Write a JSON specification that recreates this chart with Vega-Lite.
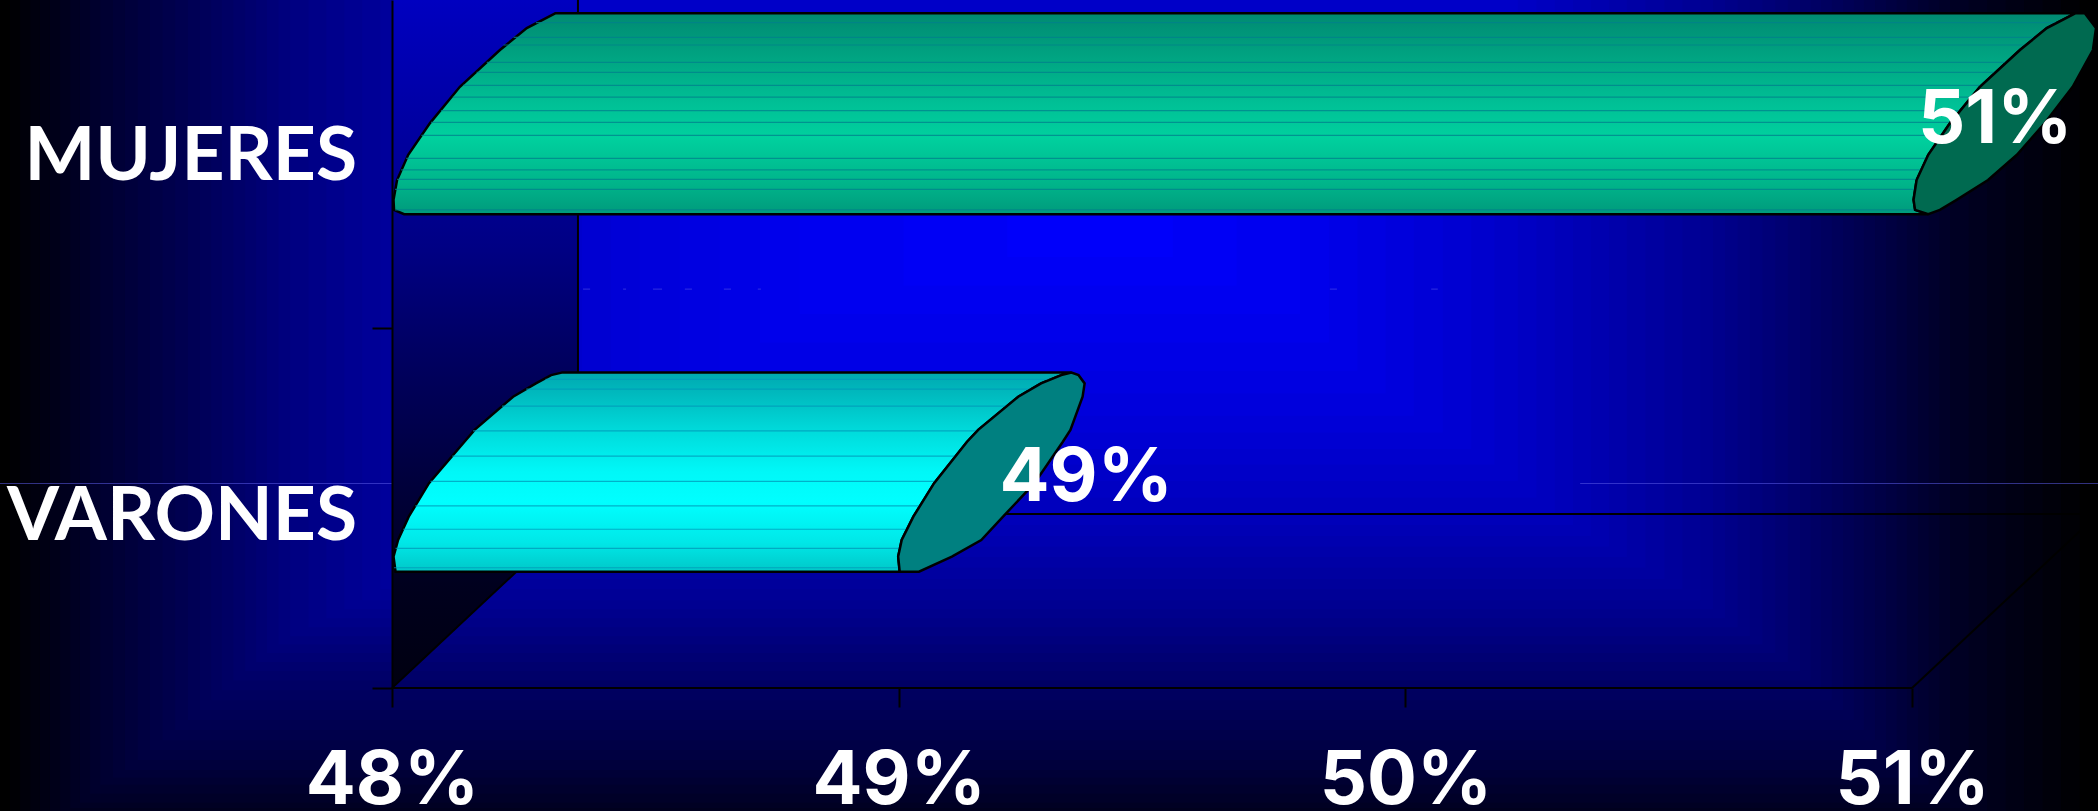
{"$schema":"https://vega.github.io/schema/vega-lite/v6.json","width":1706,"height":688,"autosize":{"type":"none"},"padding":{"left":392,"top":0,"right":0,"bottom":123},"background":"#000000","config":{"view":{"stroke":null}},
"datasets":{
"fondo":[
{"nivel":0,"x":47.226,"x2":51.367,"y":-0.347,"y2":1.911},
{"nivel":5,"x":47.246,"x2":51.331,"y":-0.347,"y2":1.911},
{"nivel":10,"x":47.266,"x2":51.294,"y":-0.347,"y2":1.911},
{"nivel":15,"x":47.286,"x2":51.258,"y":-0.347,"y2":1.911},
{"nivel":20,"x":47.305,"x2":51.221,"y":-0.347,"y2":1.911},
{"nivel":25,"x":47.325,"x2":51.185,"y":-0.347,"y2":1.911},
{"nivel":30,"x":47.345,"x2":51.148,"y":-0.347,"y2":1.911},
{"nivel":35,"x":47.365,"x2":51.112,"y":-0.333,"y2":1.911},
{"nivel":40,"x":47.384,"x2":51.075,"y":-0.319,"y2":1.911},
{"nivel":45,"x":47.404,"x2":51.054,"y":-0.294,"y2":1.911},
{"nivel":50,"x":47.424,"x2":51.033,"y":-0.269,"y2":1.911},
{"nivel":55,"x":47.449,"x2":51.012,"y":-0.249,"y2":1.911},
{"nivel":60,"x":47.473,"x2":50.990,"y":-0.228,"y2":1.911},
{"nivel":65,"x":47.498,"x2":50.970,"y":-0.200,"y2":1.911},
{"nivel":70,"x":47.522,"x2":50.949,"y":-0.172,"y2":1.911},
{"nivel":75,"x":47.547,"x2":50.927,"y":-0.145,"y2":1.911},
{"nivel":80,"x":47.572,"x2":50.905,"y":-0.117,"y2":1.911},
{"nivel":85,"x":47.597,"x2":50.885,"y":-0.089,"y2":1.911},
{"nivel":90,"x":47.621,"x2":50.864,"y":-0.061,"y2":1.911},
{"nivel":95,"x":47.643,"x2":50.842,"y":-0.034,"y2":1.911},
{"nivel":100,"x":47.664,"x2":50.820,"y":-0.006,"y2":1.911},
{"nivel":105,"x":47.687,"x2":50.800,"y":0.021,"y2":1.911},
{"nivel":110,"x":47.710,"x2":50.779,"y":0.047,"y2":1.911},
{"nivel":115,"x":47.732,"x2":50.755,"y":0.072,"y2":1.911},
{"nivel":120,"x":47.753,"x2":50.730,"y":0.097,"y2":1.911},
{"nivel":125,"x":47.776,"x2":50.705,"y":0.121,"y2":1.911},
{"nivel":130,"x":47.799,"x2":50.680,"y":0.144,"y2":1.911},
{"nivel":135,"x":47.835,"x2":50.656,"y":0.169,"y2":1.911},
{"nivel":140,"x":47.870,"x2":50.631,"y":0.194,"y2":1.911},
{"nivel":145,"x":47.906,"x2":50.607,"y":0.219,"y2":1.911},
{"nivel":150,"x":47.941,"x2":50.582,"y":0.244,"y2":1.911},
{"nivel":155,"x":47.977,"x2":50.547,"y":0.274,"y2":1.911},
{"nivel":160,"x":48.012,"x2":50.511,"y":0.303,"y2":1.911},
{"nivel":165,"x":48.049,"x2":50.474,"y":0.334,"y2":1.911},
{"nivel":170,"x":48.085,"x2":50.437,"y":0.364,"y2":1.911},
{"nivel":175,"x":48.122,"x2":50.402,"y":0.393,"y2":1.911},
{"nivel":180,"x":48.158,"x2":50.366,"y":0.422,"y2":1.911},
{"nivel":185,"x":48.194,"x2":50.331,"y":0.453,"y2":1.911},
{"nivel":190,"x":48.229,"x2":50.295,"y":0.483,"y2":1.911},
{"nivel":195,"x":48.266,"x2":50.259,"y":0.529,"y2":1.911},
{"nivel":200,"x":48.302,"x2":50.222,"y":0.575,"y2":1.911},
{"nivel":205,"x":48.339,"x2":50.176,"y":0.620,"y2":1.853},
{"nivel":210,"x":48.375,"x2":50.130,"y":0.664,"y2":1.794},
{"nivel":215,"x":48.432,"x2":50.074,"y":0.710,"y2":1.738},
{"nivel":220,"x":48.489,"x2":50.017,"y":0.756,"y2":1.681},
{"nivel":225,"x":48.568,"x2":49.961,"y":0.819,"y2":1.623},
{"nivel":230,"x":48.647,"x2":49.905,"y":0.881,"y2":1.564},
{"nivel":235,"x":48.726,"x2":49.849,"y":0.960,"y2":1.507},
{"nivel":240,"x":48.805,"x2":49.792,"y":1.039,"y2":1.45},
{"nivel":245,"x":49.010,"x2":49.667,"y":1.118,"y2":1.392},
{"nivel":250,"x":49.214,"x2":49.541,"y":1.197,"y2":1.333}],
"pared":[{"x":48,"y":0,"y2":1.911},{"x":48.367,"y":0.483,"y2":1.911}],
"lineas":[{"x":48.367,"x2":48.367,"y":0.483,"y2":1.911},{"x":48.367,"x2":51.367,"y":0.483,"y2":0.483},{"x":48,"x2":48.367,"y":0,"y2":0.483},{"x":51,"x2":51.367,"y":0,"y2":0.483},{"x":48,"x2":51,"y":0,"y2":0}],
"tenues":[{"x":47.226,"x2":48.075,"y":0.568},{"x":50.345,"x2":51.367,"y":0.568},{"x":48.377,"x2":48.391,"y":1.108},{"x":48.456,"x2":48.462,"y":1.108},{"x":48.515,"x2":48.533,"y":1.108},{"x":48.578,"x2":48.592,"y":1.108},{"x":48.655,"x2":48.669,"y":1.108},{"x":48.722,"x2":48.728,"y":1.108},{"x":49.851,"x2":49.865,"y":1.108},{"x":50.051,"x2":50.064,"y":1.108}],
"barras":[
{"barra":"VARONES","y":0.876,"izq":48.335,"der":49.341,"borde":49.341},
{"barra":"VARONES","y":0.869,"izq":48.314,"der":49.321,"borde":49.355},
{"barra":"VARONES","y":0.846,"izq":48.284,"der":49.281,"borde":49.367},
{"barra":"VARONES","y":0.809,"izq":48.239,"der":49.236,"borde":49.363},
{"barra":"VARONES","y":0.717,"izq":48.163,"der":49.157,"borde":49.339},
{"barra":"VARONES","y":0.684,"izq":48.143,"der":49.135,"borde":49.324},
{"barra":"VARONES","y":0.569,"izq":48.073,"der":49.070,"borde":49.268},
{"barra":"VARONES","y":0.476,"izq":48.033,"der":49.029,"borde":49.206},
{"barra":"VARONES","y":0.411,"izq":48.012,"der":49.006,"borde":49.163},
{"barra":"VARONES","y":0.365,"izq":48.003,"der":48.999,"borde":49.105},
{"barra":"VARONES","y":0.323,"izq":48.007,"der":49.002,"borde":49.040},
{"barra":"MUJERES","y":1.874,"izq":48.322,"der":51.322,"borde":51.341},
{"barra":"MUJERES","y":1.833,"izq":48.266,"der":51.266,"borde":51.363},
{"barra":"MUJERES","y":1.772,"izq":48.213,"der":51.213,"borde":51.357},
{"barra":"MUJERES","y":1.670,"izq":48.134,"der":51.134,"borde":51.317},
{"barra":"MUJERES","y":1.569,"izq":48.075,"der":51.075,"borde":51.262},
{"barra":"MUJERES","y":1.481,"izq":48.032,"der":51.032,"borde":51.207},
{"barra":"MUJERES","y":1.411,"izq":48.010,"der":51.009,"borde":51.150},
{"barra":"MUJERES","y":1.356,"izq":48.003,"der":51.003,"borde":51.088},
{"barra":"MUJERES","y":1.328,"izq":48.004,"der":51.006,"borde":51.055},
{"barra":"MUJERES","y":1.316,"izq":48.024,"der":51.032,"borde":51.032}],
"separadores":[
{"y":0.857,"izq":48.303,"der":49.303,"tipo":"a"},{"y":0.830,"izq":48.265,"der":49.265,"tipo":"a"},{"y":0.783,"izq":48.217,"der":49.217,"tipo":"a"},{"y":0.714,"izq":48.160,"der":49.160,"tipo":"a"},{"y":0.644,"izq":48.119,"der":49.119,"tipo":"a"},{"y":0.574,"izq":48.076,"der":49.076,"tipo":"a"},{"y":0.506,"izq":48.046,"der":49.046,"tipo":"a"},{"y":0.441,"izq":48.022,"der":49.022,"tipo":"a"},{"y":0.388,"izq":48.007,"der":49.007,"tipo":"a"},{"y":0.334,"izq":48.004,"der":49.004,"tipo":"a"},
{"y":1.848,"izq":48.284,"der":51.284,"tipo":"b"},{"y":1.807,"izq":48.240,"der":51.240,"tipo":"b"},{"y":1.786,"izq":48.220,"der":51.220,"tipo":"b"},{"y":1.738,"izq":48.187,"der":51.187,"tipo":"b"},{"y":1.710,"izq":48.167,"der":51.167,"tipo":"b"},{"y":1.674,"izq":48.140,"der":51.140,"tipo":"b"},{"y":1.641,"izq":48.120,"der":51.120,"tipo":"b"},{"y":1.604,"izq":48.097,"der":51.097,"tipo":"b"},{"y":1.571,"izq":48.077,"der":51.077,"tipo":"b"},{"y":1.535,"izq":48.058,"der":51.058,"tipo":"b"},{"y":1.471,"izq":48.028,"der":51.028,"tipo":"b"},{"y":1.439,"izq":48.018,"der":51.018,"tipo":"b"},{"y":1.413,"izq":48.010,"der":51.010,"tipo":"b"},{"y":1.385,"izq":48.006,"der":51.006,"tipo":"b"},{"y":1.328,"izq":48.006,"der":51.006,"tipo":"b"}],
"categorias":[{"categoria":"MUJERES","x":47.931,"y":1.411},{"categoria":"VARONES","x":47.931,"y":0.411}],
"valores":[{"valor":"51%","x":51.164,"y":1.514},{"valor":"49%","x":49.370,"y":0.519}]
},
"layer":[
{"data":{"name":"fondo"},"mark":{"type":"rect"},
"encoding":{"x":{"field":"x","type":"quantitative","scale":{"domain":[48,51.367],"nice":false,"zero":false},"axis":{"values":[48,49,50,51],"labelExpr":"datum.value + '%'","domain":false,"tickColor":"#000000","tickWidth":2,"tickSize":19,"labelColor":"#ffffff","labelFont":"Inter","labelFontWeight":"bold","labelFontSize":74,"labelBaseline":"alphabetic","labelPadding":96,"labelFlush":false,"labelOverlap":false,"grid":false,"title":null,"zindex":1},"title":null},"x2":{"field":"x2"},"y":{"field":"y","type":"quantitative","scale":{"domain":[0,1.911],"nice":false,"zero":false},"axis":{"values":[0,1],"labels":false,"domainColor":"#000000","domainWidth":2,"tickColor":"#000000","tickWidth":2,"tickSize":20,"grid":false,"title":null,"zindex":1},"title":null},"y2":{"field":"y2"},"color":{"field":"nivel","type":"quantitative","legend":null,"scale":{"domain":[0,255],"range":["#000000","#0000ff"],"interpolate":"rgb"}}}},
{"data":{"name":"tenues"},"mark":{"type":"rule","color":"#5a5ae6","strokeWidth":1,"opacity":0.55},"encoding":{"x":{"field":"x","type":"quantitative"},"x2":{"field":"x2"},"y":{"field":"y","type":"quantitative"}}},
{"data":{"name":"pared"},"mark":{"type":"area","orient":"vertical","color":{"gradient":"linear","x1":0,"y1":0,"x2":0,"y2":1,"stops":[{"offset":0,"color":"#0000c0"},{"offset":0.36,"color":"#000084"},{"offset":0.5,"color":"#000064"},{"offset":0.85,"color":"#00001e"},{"offset":1,"color":"#000010"}]}},
"encoding":{"x":{"field":"x","type":"quantitative"},"y":{"field":"y","type":"quantitative","stack":null},"y2":{"field":"y2"}}},
{"data":{"name":"lineas"},"mark":{"type":"rule","color":"#000000","strokeWidth":2},"encoding":{"x":{"field":"x","type":"quantitative"},"x2":{"field":"x2"},"y":{"field":"y","type":"quantitative"},"y2":{"field":"y2"}}},
{"data":{"name":"barras"},"transform":[{"filter":"datum.barra === 'VARONES'"}],"mark":{"type":"area","orient":"horizontal","stroke":"#000000","strokeWidth":2.5,"color":{"gradient":"linear","x1":0,"y1":0,"x2":0,"y2":1,"stops":[{"offset":0,"color":"#00a8b0"},{"offset":0.12,"color":"#00bcc0"},{"offset":0.3,"color":"#00dcdc"},{"offset":0.5,"color":"#00f8f8"},{"offset":0.65,"color":"#00ffff"},{"offset":0.85,"color":"#00e8e8"},{"offset":1,"color":"#00c8c8"}]}},
"encoding":{"y":{"field":"y","type":"quantitative","stack":null},"x":{"field":"izq","type":"quantitative"},"x2":{"field":"der"}}},
{"data":{"name":"barras"},"transform":[{"filter":"datum.barra === 'MUJERES'"}],"mark":{"type":"area","orient":"horizontal","stroke":"#000000","strokeWidth":2.5,"color":{"gradient":"linear","x1":0,"y1":0,"x2":0,"y2":1,"stops":[{"offset":0,"color":"#008a72"},{"offset":0.25,"color":"#00a884"},{"offset":0.45,"color":"#00c096"},{"offset":0.62,"color":"#00d09e"},{"offset":0.85,"color":"#00b48a"},{"offset":1,"color":"#009a7c"}]}},
"encoding":{"y":{"field":"y","type":"quantitative","stack":null},"x":{"field":"izq","type":"quantitative"},"x2":{"field":"der"}}},
{"data":{"name":"separadores"},"mark":{"type":"rule","strokeWidth":1.2,"opacity":0.75},"encoding":{"x":{"field":"izq","type":"quantitative"},"x2":{"field":"der"},"y":{"field":"y","type":"quantitative"},"color":{"field":"tipo","type":"nominal","legend":null,"scale":{"domain":["a","b"],"range":["#0098b8","#00808c"]}}}},
{"data":{"name":"barras"},"transform":[{"filter":"datum.barra === 'VARONES'"}],"mark":{"type":"area","orient":"horizontal","color":"#008080","stroke":"#000000","strokeWidth":2.5},
"encoding":{"y":{"field":"y","type":"quantitative","stack":null},"x":{"field":"der","type":"quantitative"},"x2":{"field":"borde"}}},
{"data":{"name":"barras"},"transform":[{"filter":"datum.barra === 'MUJERES'"}],"mark":{"type":"area","orient":"horizontal","color":"#006a50","stroke":"#000000","strokeWidth":2.5},
"encoding":{"y":{"field":"y","type":"quantitative","stack":null},"x":{"field":"der","type":"quantitative"},"x2":{"field":"borde"}}},
{"data":{"name":"categorias"},"mark":{"type":"text","align":"right","baseline":"alphabetic","color":"#ffffff","font":"Lato","fontWeight":"bold","fontSize":75},"encoding":{"x":{"field":"x","type":"quantitative"},"y":{"field":"y","type":"quantitative"},"text":{"field":"categoria"}}},
{"data":{"name":"valores"},"mark":{"type":"text","align":"center","baseline":"alphabetic","color":"#ffffff","font":"Inter","fontWeight":"bold","fontSize":74},"encoding":{"x":{"field":"x","type":"quantitative"},"y":{"field":"y","type":"quantitative"},"text":{"field":"valor"}}}
]}
